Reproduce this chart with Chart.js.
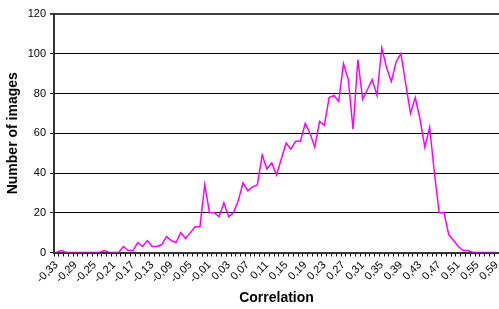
<!DOCTYPE html>
<html>
<head>
<meta charset="utf-8">
<script src="https://cdn.jsdelivr.net/npm/chart.js@4.4.0/dist/chart.umd.min.js"></script>
<style>
html,body{margin:0;padding:0;background:#fff;overflow:hidden;}
#wrap{width:499px;height:309px;position:relative;}
</style>
</head>
<body>
<div id="wrap"><canvas id="c" width="499" height="309"></canvas></div>
<script>
// Categories: correlation values -0.33 .. 0.59 in steps of 0.01
const categories = [
  "-0,33","-0,32","-0,31","-0,30","-0,29","-0,28","-0,27","-0,26","-0,25","-0,24",
  "-0,23","-0,22","-0,21","-0,20","-0,19","-0,18","-0,17","-0,16","-0,15","-0,14",
  "-0,13","-0,12","-0,11","-0,10","-0,09","-0,08","-0,07","-0,06","-0,05","-0,04",
  "-0,03","-0,02","-0,01","0,00","0,01","0,02","0,03","0,04","0,05","0,06",
  "0,07","0,08","0,09","0,10","0,11","0,12","0,13","0,14","0,15","0,16",
  "0,17","0,18","0,19","0,20","0,21","0,22","0,23","0,24","0,25","0,26",
  "0,27","0,28","0,29","0,30","0,31","0,32","0,33","0,34","0,35","0,36",
  "0,37","0,38","0,39","0,40","0,41","0,42","0,43","0,44","0,45","0,46",
  "0,47","0,48","0,49","0,50","0,51","0,52","0,53","0,54","0,55","0,56",
  "0,57","0,58","0,59"
];
// Number of images per correlation bin
const imageCounts = [
  0,1,0,0,0,0,0,0,0,0,
  1,0,0,0,3,1,1,5,3,6,
  3,3,4,8,6,5,10,7,10,13,
  13,34,20,20,18,25,18,20,26,35,
  31,33,34,49,42,45,39,47,55,52,
  56,56,65,60,53,66,64,78,79,76,
  95,87,62,97,77,82,87,79,103,93,
  86,96,100,85,70,78,67,53,63,40,
  20,20,9,6,3,1,1,0,0,0,
  0,0,0
];
const yTicks = [0,20,40,60,80,100,120];
const labelEvery = 4;

new Chart(document.getElementById('c'), {
  type: 'line',
  data: {
    labels: categories,
    datasets: [{
      label: 'Number of images',
      data: imageCounts,
      borderColor: '#FF00FF',
      borderWidth: 1.5,
      pointRadius: 0,
      tension: 0,
      fill: false
    }]
  },
  options: {
    responsive: false,
    animation: false,
    devicePixelRatio: 1,
    layout: { padding: { top: 14, right: 0, left: 0, bottom: 0 } },
    plugins: { legend: { display: false }, tooltip: { enabled: false } },
    scales: {
      x: {
        type: 'category',
        offset: true,
        grid: {
          offset: true,
          drawOnChartArea: false,
          drawTicks: true,
          tickLength: 4,
          color: '#000',
          lineWidth: 1
        },
        border: { color: '#333', width: 2 },
        ticks: {
          autoSkip: false,
          maxRotation: 45,
          minRotation: 45,
          padding: 2,
          color: '#000',
          font: { family: 'Liberation Sans, Arial, sans-serif', size: 11 },
          callback: function(v, i) { return i % labelEvery === 0 ? categories[i] : ''; }
        },
        title: {
          display: true,
          text: 'Correlation',
          color: '#000',
          font: { family: 'Liberation Sans, Arial, sans-serif', size: 14, weight: 'bold' },
          padding: { top: 0, bottom: 2 }
        },
        afterFit: function(s) { s.height = 56.5; s.paddingLeft = 0; s.paddingRight = 0; }
      },
      y: {
        min: 0,
        max: 120,
        afterBuildTicks: function(s) { s.ticks = yTicks.map(v => ({ value: v })); },
        grid: {
          color: function(ctx) { return ctx.tick && ctx.tick.value === 120 ? '#404040' : '#000'; },
          lineWidth: function(ctx) { return ctx.tick && ctx.tick.value === 120 ? 2 : 1; },
          tickLength: 4
        },
        border: { color: '#333', width: 2 },
        ticks: {
          padding: 4,
          color: '#000',
          font: { family: 'Liberation Sans, Arial, sans-serif', size: 11 }
        },
        title: {
          display: true,
          text: 'Number of images',
          color: '#000',
          font: { family: 'Liberation Sans, Arial, sans-serif', size: 14, weight: 'bold' },
          padding: { top: 5, bottom: 0 }
        },
        afterFit: function(s) { s.width = 54; }
      }
    }
  }
});
</script>
</body>
</html>
